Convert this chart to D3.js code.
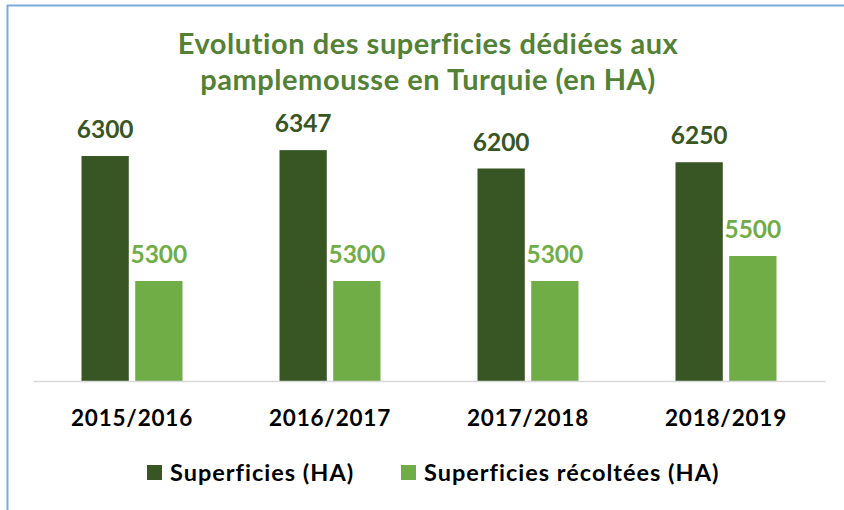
<!DOCTYPE html>
<html>
<head>
<meta charset="utf-8">
<script src="https://cdn.jsdelivr.net/npm/d3@7"></script>
<style>
  body { margin: 0; background: #fff; }
  svg text { font-family: Lato, "Open Sans", sans-serif; font-weight: bold; }
</style>
</head>
<body>
<div class="chart"></div>
<script>
const years = ["2015/2016", "2016/2017", "2017/2018", "2018/2019"];
const superficies = [6300, 6347, 6200, 6250];
const recoltees = [5300, 5300, 5300, 5500];
const seriesNames = ["Superficies (HA)", "Superficies récoltées (HA)"];
const seriesColors = ["#375623", "#70ad47"];
const titleLines = ["Evolution des superficies dédiées aux", "pamplemousse en Turquie (en HA)"];

const w = 844, h = 510;
const margin = { top: 131, bottom: 129, left: 33, right: 19 };

const svg = d3.select(".chart").append("svg")
    .attr("width", w)
    .attr("height", h);

// frame (only top and left edges show in the crop)
svg.append("line").attr("x1", 7).attr("x2", w).attr("y1", 5.5).attr("y2", 5.5)
    .attr("stroke", "#7aaadc").attr("stroke-width", 2);
svg.append("line").attr("x1", 7.5).attr("x2", 7.5).attr("y1", 5).attr("y2", h)
    .attr("stroke", "#7aaadc").attr("stroke-width", 2);

svg.append("g").selectAll("text")
    .data(titleLines)
    .enter().append("text")
    .attr("x", 428)
    .attr("y", (d, i) => 54 + i * 36)
    .attr("text-anchor", "middle")
    .attr("font-size", 29)
    .attr("letter-spacing", 0.55)
    .attr("fill", "#538135")
    .text(d => d);

const x = d3.scaleBand()
    .domain(years)
    .range([margin.left, w - margin.right]);

const x1 = d3.scaleBand()
    .domain([0, 1])
    .range([0, 101])
    .paddingInner(0.12);

const y = d3.scaleLinear()
    .domain([4500, 6500])
    .range([h - margin.bottom, margin.top]);

const rows = years.map((yr, i) => ({ year: yr, vals: [superficies[i], recoltees[i]] }));

const groups = svg.append("g").selectAll("g")
    .data(rows)
    .enter().append("g")
    .attr("transform", d => "translate(" + (x(d.year) + x.bandwidth() / 2 - 50.5) + ",0)");

groups.selectAll("rect")
    .data(d => d.vals)
    .enter().append("rect")
    .attr("x", (d, i) => x1(i))
    .attr("width", x1.bandwidth())
    .attr("y", d => y(d))
    .attr("height", d => y(4500) - y(d))
    .attr("fill", (d, i) => seriesColors[i]);

groups.selectAll("text")
    .data(d => d.vals)
    .enter().append("text")
    .attr("x", (d, i) => x1(i) + x1.bandwidth() / 2)
    .attr("y", d => y(d) - 18)
    .attr("text-anchor", "middle")
    .attr("font-size", 24.5)
    .attr("fill", (d, i) => seriesColors[i])
    .text(d => d);

const xAxis = svg.append("g")
    .attr("transform", "translate(0," + (h - margin.bottom) + ")")
    .call(d3.axisBottom(x).tickSize(0).tickPadding(29));
xAxis.select(".domain").attr("stroke", "#d9d9d9").attr("stroke-width", 1.5);
xAxis.selectAll("text")
    .attr("font-size", 22.5)
    .attr("letter-spacing", 0.8)
    .attr("fill", "#000")
    .attr("dy", 0)
    .style("font-family", "Lato, 'Open Sans', sans-serif")
    .style("font-weight", "bold");
xAxis.selectAll(".tick text").attr("y", 45);

const legend = svg.append("g").selectAll("g")
    .data(seriesNames)
    .enter().append("g")
    .attr("transform", (d, i) => "translate(" + [147, 401][i] + ",465)");
legend.append("rect")
    .attr("width", 15).attr("height", 15)
    .attr("fill", (d, i) => seriesColors[i]);
legend.append("text")
    .attr("x", 23)
    .attr("y", 15.5)
    .attr("font-size", 23.5)
    .attr("letter-spacing", 1)
    .attr("fill", "#000")
    .text(d => d);
</script>
</body>
</html>
